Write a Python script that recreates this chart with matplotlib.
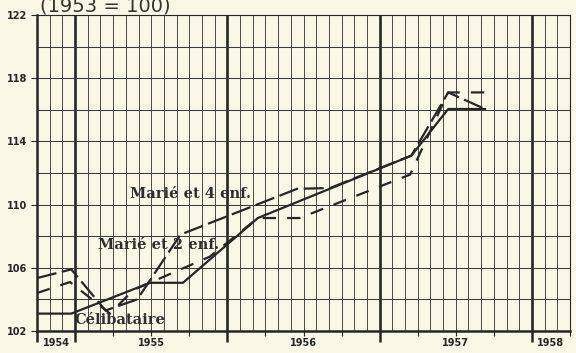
import matplotlib.pyplot as plt
from matplotlib.ticker import FixedLocator, NullFormatter

# time axis in months counted from January 1955
months_celib = [-3, -0.3, 5.9, 8.5, 14.4, 26.5, 29.4, 32.3]
index_celib = [103.1, 103.1, 105.05, 105.05, 109.15, 113.1, 116.05, 116.05]

months_4enf = [-3, -0.3, 2.4, 4.9, 8.3, 17.5, 20.1, 26.5, 29.4, 32.3]
index_4enf = [105.35, 105.9, 103.3, 104.0, 108.1, 111.0, 111.05, 113.1, 117.1, 116.05]

months_2enf = [-3, -0.4, 2.75, 4.6, 10.6, 14.4, 17.7, 26.4, 29.4, 32.5]
index_2enf = [104.4, 105.1, 103.1, 104.6, 106.7, 109.15, 109.15, 111.9, 117.1, 117.1]

year_labels = ['1954', '1955', '1956', '1957', '1958']
year_label_pos = [-1.5, 6, 18, 30, 37.5]
y_ticks = [102, 106, 110, 114, 118, 122]

paper = '#faf7e6'
ink = '#262626'

fig = plt.figure(figsize=(5.76, 3.53), dpi=100, facecolor=paper)
ax = fig.add_axes([37 / 576, 22 / 353, 533 / 576, 316 / 353])
ax.set_facecolor(paper)
ax.set_xlim(-3, 39)
ax.set_ylim(102, 122)

# monthly grid, heavier rule at each new year
for m in range(-3, 40):
    if m % 12 == 0:
        ax.axvline(m, color=ink, lw=1.9, zorder=1)
    else:
        ax.axvline(m, color='#3c3c3c', lw=0.65, zorder=1)
for v in range(102, 123, 2):
    ax.axhline(v, color='#3c3c3c', lw=0.75, zorder=1)

for side in ['top', 'right']:
    ax.spines[side].set_linewidth(0.8)
for side in ['left', 'bottom']:
    ax.spines[side].set_linewidth(1.8)
for sp in ax.spines.values():
    sp.set_color(ink)

ax.plot(months_celib, index_celib, color=ink, lw=1.6, zorder=3)
ax.plot(months_4enf, index_4enf, color=ink, lw=1.6, dashes=(9, 2.5), zorder=3)
ax.plot(months_2enf, index_2enf, color=ink, lw=1.6, dashes=(6, 5), zorder=3)

serif = {'family': 'DejaVu Serif', 'size': 10.5, 'weight': 'bold', 'color': '#2e2e2e'}
ax.text(9.1, 110.7, 'Marié et 4 enf.', ha='center', va='center', zorder=4, **serif)
ax.text(6.6, 107.45, 'Marié et 2 enf.', ha='center', va='center', zorder=4, **serif)
ax.text(3.5, 102.7, 'Célibataire', ha='center', va='center', zorder=4, **serif)

ax.set_yticks(y_ticks)
ax.set_yticklabels([str(t) for t in y_ticks], fontsize=7, fontweight='bold', color=ink)
ax.tick_params(axis='y', length=4, width=0.8, pad=3, color=ink)

ax.xaxis.set_major_locator(FixedLocator([-3, 0, 12, 24, 36]))
ax.xaxis.set_minor_locator(FixedLocator(range(-3, 40, 3)))
ax.xaxis.set_major_formatter(NullFormatter())
ax.tick_params(axis='x', which='major', length=8, width=1.8, color=ink)
ax.tick_params(axis='x', which='minor', length=3.5, width=0.8, color=ink)
for pos, lab in zip(year_label_pos, year_labels):
    ax.annotate(lab, xy=(pos, 102), xycoords='data', xytext=(0, -8.5),
                textcoords='offset points', ha='center', va='center',
                fontsize=7, fontweight='bold', color=ink, annotation_clip=False)

fig.text(40 / 576, 1 - 11 / 353, '(1953 = 100)', fontsize=14, color='#333333',
         ha='left', va='baseline')

fig.savefig('out.png', dpi=100, facecolor=paper)
